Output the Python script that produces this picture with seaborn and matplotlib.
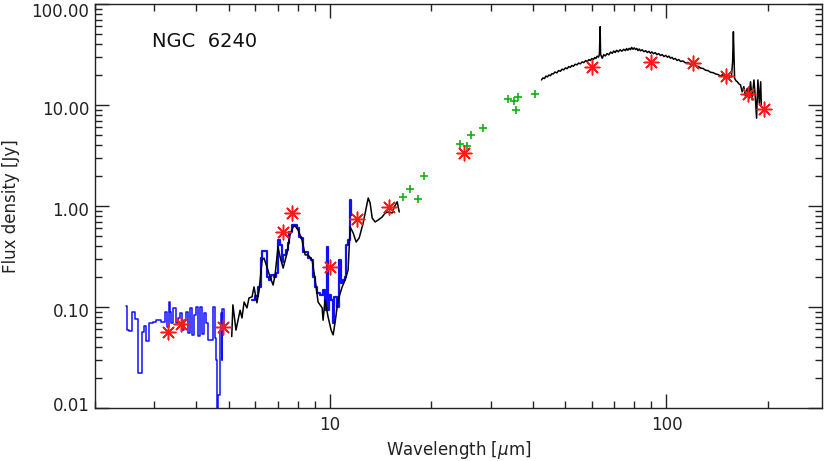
import numpy as np
import pandas as pd
import seaborn as sns
import matplotlib.pyplot as plt
from matplotlib.transforms import ScaledTranslation
from matplotlib.ticker import FixedLocator, FuncFormatter, LogLocator, NullFormatter

# ISO-PHT-S style low resolution spectrum (blue, histogram mode), two pieces
blue1_wl = [2.47, 2.50, 2.56, 2.59, 2.66, 2.72, 2.78, 2.81, 2.87, 2.93, 3.01, 3.06, 3.21,
            3.25, 3.30, 3.32, 3.36, 3.38, 3.46, 3.50, 3.55, 3.63, 3.65, 3.70, 3.75, 3.80,
            3.86, 3.91, 3.97, 4.02, 4.08, 4.13, 4.19, 4.25, 4.30, 4.36, 4.45, 4.52, 4.55,
            4.58, 4.61, 4.67, 4.71, 4.74, 4.77, 4.80, 4.86]
blue1_fl = [0.102, 0.059, 0.058, 0.089, 0.076, 0.022, 0.057, 0.065, 0.046, 0.070, 0.071, 0.074, 0.071,
            0.089, 0.063, 0.112, 0.089, 0.070, 0.098, 0.070, 0.078, 0.087, 0.059, 0.074, 0.089, 0.055,
            0.098, 0.053, 0.083, 0.100, 0.052, 0.100, 0.054, 0.087, 0.070, 0.047, 0.047, 0.100, 0.049,
            0.030, 0.007, 0.0135, 0.059, 0.087, 0.030, 0.095, 0.060]
blue2_wl = [5.86, 6.06, 6.19, 6.23, 6.32, 6.45, 6.49, 6.63, 6.72, 6.86, 6.96, 7.00, 7.15, 7.20,
            7.30, 7.45, 7.50, 7.60, 7.76, 7.92, 8.03, 8.14, 8.25, 8.37, 8.54, 8.66, 8.84, 8.96,
            9.08, 9.21, 9.47, 9.60, 9.73, 9.80, 9.86, 10.00, 10.14, 10.21, 10.35, 10.56, 10.71,
            10.86, 11.01, 11.08, 11.24, 11.39, 11.47, 11.63]
blue2_fl = [0.117, 0.129, 0.158, 0.305, 0.358, 0.358, 0.198, 0.185, 0.207, 0.198, 0.217, 0.461, 0.411, 0.279,
            0.328, 0.367, 0.430, 0.553, 0.649, 0.649, 0.605, 0.493, 0.482, 0.351, 0.351, 0.305, 0.292, 0.198,
            0.158, 0.138, 0.132, 0.147, 0.093, 0.393, 0.093, 0.132, 0.117, 0.070, 0.126, 0.100, 0.292,
            0.173, 0.185, 0.198, 0.411, 0.461, 1.15, 0.815]

# Spitzer IRS spectrum (black)
irs_wl = [5.10, 5.14, 5.25, 5.40, 5.47, 5.55, 5.66, 5.74, 5.86, 5.94, 6.06, 6.15, 6.28, 6.36,
          6.49, 6.63, 6.77, 6.86, 7.00, 7.10, 7.25, 7.45, 7.60, 7.76, 7.87, 8.03, 8.25, 8.43,
          8.60, 8.84, 9.03, 9.21, 9.47, 9.53, 9.66, 9.86, 10.07, 10.21, 10.35, 10.56, 10.86,
          11.08, 11.31, 11.47, 11.71, 11.95, 12.20, 12.54, 12.89, 12.98, 13.15, 13.34, 13.61,
          13.90, 14.28, 14.58, 14.88, 15.29, 15.51, 15.83, 16.05]
irs_fl = [0.051, 0.105, 0.059, 0.093, 0.078, 0.112, 0.098, 0.123, 0.126, 0.158, 0.110, 0.147, 0.292, 0.305,
          0.249, 0.198, 0.165, 0.207, 0.393, 0.313, 0.243, 0.343, 0.516, 0.620, 0.635, 0.578, 0.461, 0.328,
          0.328, 0.292, 0.185, 0.112, 0.098, 0.074, 0.117, 0.080, 0.059, 0.053, 0.071, 0.117, 0.158,
          0.185, 0.232, 0.620, 0.541, 0.440, 0.482, 0.679, 1.07, 1.20, 1.07, 0.760, 0.695,
          0.727, 0.778, 0.853, 0.873, 0.853, 0.978, 1.10, 0.873]

# ISO LWS spectrum (black)
lws_wl = [42.5, 42.9, 43.4, 43.8, 44.3, 44.7, 45.2, 45.6, 46.1, 46.6,
          47.2, 47.8, 48.4, 48.9, 49.5, 50.1, 50.7, 51.2, 51.8, 52.3,
          52.9, 53.5, 54.2, 54.8, 55.5, 56.1, 56.8, 57.5, 58.2, 58.8,
          59.4, 60.0, 60.7, 61.2, 61.7, 62.2, 62.8, 63.2, 63.5, 63.7,
          64.4, 65.1, 65.8, 66.6, 67.4, 68.2, 69.0, 69.7, 70.4, 71.1,
          71.9, 72.8, 73.7, 74.6, 75.5, 76.1, 76.8, 77.5, 78.2, 78.8,
          79.5, 80.2, 80.9, 81.6, 82.3, 83.0, 83.7, 84.7, 85.7, 86.7,
          87.8, 88.7, 89.6, 90.5, 91.5, 92.6, 93.7, 94.8, 96.0, 97.1,
          98.3, 99.5, 100.7, 101.7, 102.8, 103.9, 105.0, 106.2, 107.5, 108.8,
          110.1, 112.0, 113.9, 115.9, 117.9, 119.9, 122.0, 124.1, 126.3, 128.5,
          130.7, 132.9, 135.2, 137.6, 140.0, 142.4, 144.8, 146.6, 148.4, 150.2,
          152.0, 153.0, 154.0, 155.0, 156.0, 157.3, 158.1, 159.4, 160.9, 162.4,
          164.2, 166.0, 167.9, 169.8, 171.8, 173.8, 175.8, 177.8, 179.8, 182.0,
          184.1, 185.3, 187.0, 188.8, 190.6, 191.4]
lws_fl = [17.7, 18.5, 18.3, 19.3, 19.0, 19.8, 19.5, 20.4, 20.3, 21.2,
          20.8, 21.9, 21.6, 22.6, 22.3, 23.3, 22.9, 24.0, 23.6, 24.6,
          24.2, 25.3, 25.0, 26.0, 25.6, 26.7, 26.3, 27.5, 27.0, 28.1,
          27.6, 28.8, 28.3, 29.5, 28.9, 30.4, 29.8, 31.8, 59.6, 31.8,
          29.0, 31.5, 30.6, 32.3, 31.4, 33.4, 32.5, 34.2, 33.1, 34.8,
          33.6, 35.2, 34.1, 35.6, 34.5, 36.2, 34.9, 36.4, 35.3, 37.2,
          35.6, 36.8, 35.4, 36.3, 34.6, 35.8, 34.4, 35.2, 33.7, 34.5,
          33.1, 34.0, 32.6, 33.5, 32.2, 33.0, 31.5, 32.3, 30.9, 31.6,
          30.2, 31.0, 29.7, 30.5, 29.1, 29.6, 28.4, 28.9, 27.6, 28.2,
          27.0, 27.3, 26.1, 26.4, 25.3, 25.4, 24.3, 24.2, 23.2, 23.0,
          22.1, 21.9, 21.1, 20.9, 20.3, 20.0, 19.4, 19.9, 18.9, 19.6,
          18.7, 19.5, 18.8, 19.3, 19.0, 27.0, 53.2, 18.4, 17.4, 17.0,
          16.2, 15.8, 13.5, 15.2, 12.1, 14.6, 11.6, 17.0, 11.2, 17.7,
          10.8, 7.4, 17.7, 10.4, 17.0, 10.0]

# broad-band photometry (red) and mid/far-IR points (green)
phot_wl = [3.3, 3.6, 4.8, 7.25, 7.7, 10.0, 12.0, 15.0, 25.0, 60.0, 90.0, 120.0, 150.0, 175.0, 195.0]
phot_fl = [0.057, 0.068, 0.064, 0.55, 0.86, 0.25, 0.74, 0.98, 3.35, 23.8, 26.7, 26.1, 19.2, 12.8, 9.1]
green_wl = [16.5, 17.3, 18.2, 19.0, 24.3, 25.6, 26.2, 28.5, 33.7, 35.1, 36.3, 35.6, 40.6]
green_fl = [1.22, 1.48, 1.18, 1.97, 4.08, 3.90, 5.08, 5.88, 11.5, 11.0, 12.1, 8.97, 12.8]

sns.set_style('ticks')
plt.rcParams['font.family'] = ['DejaVu Sans']

fig = plt.figure(figsize=(8.3, 4.61), dpi=100)
ax = fig.add_axes([95 / 830, 53 / 461, 727 / 830, 404 / 461])

sns.lineplot(x=blue1_wl, y=blue1_fl, ax=ax, color='#1010ff', lw=1.1, sort=False,
             estimator=None, drawstyle='steps-mid')
sns.lineplot(x=blue2_wl, y=blue2_fl, ax=ax, color='#1010ff', lw=1.6, sort=False,
             estimator=None, drawstyle='steps-mid')
sns.lineplot(x=irs_wl, y=irs_fl, ax=ax, color='black', lw=1.1, sort=False, estimator=None)
sns.lineplot(x=lws_wl, y=lws_fl, ax=ax, color='black', lw=1.1, sort=False, estimator=None)

sns.scatterplot(x=green_wl, y=green_fl, ax=ax, marker='+', color='#10b010', s=40, linewidth=1.2)
sns.scatterplot(x=phot_wl, y=phot_fl, ax=ax, marker=(8, 2, 0), color='#ff1a1a', s=110,
                linewidth=1.1, zorder=5)
sns.scatterplot(x=phot_wl, y=phot_fl, ax=ax, marker='o', color='#ff1a1a', s=10,
                linewidth=0, zorder=6)

ax.set_xscale('log')
ax.set_yscale('log')
ax.set_xlim(2.0, 290)
ax.set_ylim(0.01, 100)

ax.xaxis.set_major_locator(FixedLocator([10, 100]))
ax.xaxis.set_major_formatter(FuncFormatter(lambda v, p: '%d' % v))
ax.xaxis.set_minor_locator(LogLocator(base=10, subs=np.arange(2, 10)))
ax.xaxis.set_minor_formatter(NullFormatter())
ax.yaxis.set_major_locator(FixedLocator([0.01, 0.1, 1, 10, 100]))
ax.yaxis.set_major_formatter(FuncFormatter(lambda v, p: '%.2f' % v))
ax.yaxis.set_minor_locator(LogLocator(base=10, subs=np.arange(2, 10)))
ax.yaxis.set_minor_formatter(NullFormatter())

ax.tick_params(which='both', direction='in', top=True, right=True, colors='#222222',
               labelsize=12, width=1.0)
ax.tick_params(which='major', length=10)
ax.tick_params(which='minor', length=5)
ax.tick_params(axis='x', pad=6)
ax.tick_params(axis='y', pad=4)
for s in ax.spines.values():
    s.set_linewidth(1.0)
    s.set_color('#222222')

# shift y labels a little as in the original (IDL style placement)
shifts = [3.0, -1.8, -1.8, -1.8, -4.5]
for tick, dy in zip(ax.yaxis.get_major_ticks(), shifts):
    tick.label1.set_transform(tick.label1.get_transform() +
                              ScaledTranslation(0, dy / 72, fig.dpi_scale_trans))

ax.set_xlabel('Wavelength [$\\mu$m]', fontsize=12, color='#222222', labelpad=3)
ax.set_ylabel('Flux density [Jy]', fontsize=12, color='#222222', labelpad=8)
ax.text(0.078, 0.906, 'NGC  6240', transform=ax.transAxes, fontsize=14,
        va='center', ha='left', color='#111111')

fig.savefig('out.png', dpi=100)
